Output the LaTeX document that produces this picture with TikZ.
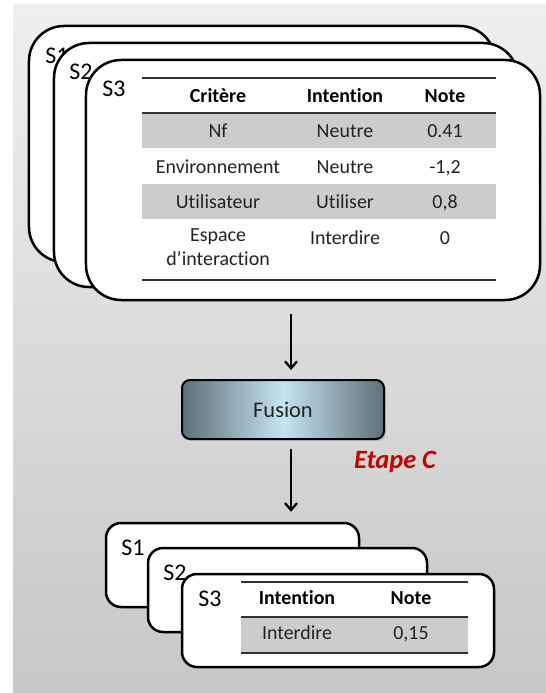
\documentclass[tikz,border=0pt]{standalone}
\usepackage{fontspec}
\setmainfont{Carlito}[Ligatures={TeX,NoCommon}]
\usepackage{xcolor}
\usetikzlibrary{calc,arrows.meta,positioning,shadows}
\definecolor{bgTop}{RGB}{239,239,239}
\definecolor{bgBot}{RGB}{199,199,199}
\definecolor{rowGray}{RGB}{204,204,204}
\definecolor{ruleGray}{RGB}{50,50,50}
\definecolor{txtGray}{RGB}{35,35,35}
\definecolor{fusDark}{RGB}{94,111,121}
\definecolor{fusLight}{RGB}{198,228,240}
\definecolor{etapeRed}{RGB}{192,0,0}
\newcommand{\tblfont}{\fontsize{20}{24}\selectfont}
\newcommand{\labfont}{\fontsize{24}{28}\selectfont}

\begin{document}
\begin{tikzpicture}[x=1bp,y=-1bp,
  bigcard/.style={draw=black, fill=white, line width=2.5bp, rounded corners=35bp, inner sep=0pt},
  smallcard/.style={draw=black, fill=white, line width=2.5bp, rounded corners=15bp, inner sep=0pt},
  slabel/.style={font=\labfont, text=black, inner sep=0pt},
  cell/.style={font=\tblfont, text=txtGray, inner sep=0pt, anchor=mid},
  headcell/.style={font=\tblfont\bfseries, text=black, inner sep=0pt, anchor=mid},
  rule/.style={draw=ruleGray, line width=1.6bp},
  arr/.style={-{Straight Barb[length=7bp,width=12bp]}, line width=2.2bp}]
\useasboundingbox (0,0) rectangle (546,693);
\shade[top color=bgTop, bottom color=bgBot] (13,5) rectangle (546,693);

% top stack of cards
\node[bigcard, minimum width=466bp, minimum height=236bp] (top1) at (262,144) {};
\node[slabel] (lt1) at (57,56) {S1};
\node[bigcard, minimum width=464bp, minimum height=244bp] (top2) at (286,165) {};
\node[slabel] (lt2) at (81,72) {S2};
\node[bigcard, minimum width=454bp, minimum height=240bp] (top3) at (313,180) {};
\node[slabel] (lt3) at (114,89) {S3};

% table of S3
\fill[rowGray] (142,113) rectangle (496,148);
\fill[rowGray] (142,184) rectangle (496,219);
\draw[rule] (142,78) -- (496,78);
\draw[rule] (142,113) -- (496,113);
\draw[rule] (142,280) -- (496,280);
\node[headcell] (hCrit) at (218,100) {Critère};
\node[headcell] (hInt) at (345,100) {Intention};
\node[headcell] (hNote) at (445,100) {Note};
\node[cell] (c11) at (218,135) {Nf};
\node[cell] (c12) at (345,135) {Neutre};
\node[cell] (c13) at (445,135) {0.41};
\node[cell] (c21) at (218,171) {Environnement};
\node[cell] (c22) at (345,171) {Neutre};
\node[cell] (c23) at (445,171) {-1,2};
\node[cell] (c31) at (218,206) {Utilisateur};
\node[cell] (c32) at (345,206) {Utiliser};
\node[cell] (c33) at (445,206) {0,8};
\node[cell, align=center, anchor=north] (c41) at (218,229) {Espace\\d’interaction};
\node[cell] (c42) at (345,242) {Interdire};
\node[cell] (c43) at (445,242) {0};

% fusion step
\node[draw=black, line width=2bp, rounded corners=8bp, minimum width=202bp, minimum height=59bp,
  left color=fusDark, right color=fusDark, middle color=fusLight,
  drop shadow={opacity=0.25, shadow xshift=2bp, shadow yshift=-2bp},
  font=\fontsize{22.5}{26}\selectfont, text=txtGray] (fusion) at (283,409.5) {Fusion};
\node[font=\fontsize{26.5}{30}\selectfont\bfseries\itshape, text=etapeRed] (etape) at (395,462) {Etape C};

% bottom stack of cards
\node[smallcard, minimum width=253bp, minimum height=84bp] (bot1) at (232.5,565) {};
\node[slabel] (lb1) at (133,548) {S1};
\node[smallcard, minimum width=279bp, minimum height=84bp] (bot2) at (287.5,590) {};
\node[slabel] (lb2) at (175,573) {S2};
\node[smallcard, minimum width=312bp, minimum height=93bp] (bot3) at (338,620.5) {};
\node[slabel] (lb3) at (210,599) {S3};

% table of result
\fill[rowGray] (241,617) rectangle (468,653);
\draw[rule] (241,582) -- (468,582);
\draw[rule] (241,617) -- (468,617);
\draw[rule] (241,653) -- (468,653);
\node[headcell] (rInt) at (297,602) {Intention};
\node[headcell] (rNote) at (411,602) {Note};
\node[cell] (r11) at (297,637) {Interdire};
\node[cell] (r12) at (411,637) {0,15};

% arrows
\coordinate (colx) at (291,0);
\draw[arr, shorten <=13bp, shorten >=9bp] (colx |- top3.south) -- (colx |- fusion.north);
\draw[arr, shorten <=9bp, shorten >=10bp] (colx |- fusion.south) -- (colx |- bot1.north);
\end{tikzpicture}
\end{document}
